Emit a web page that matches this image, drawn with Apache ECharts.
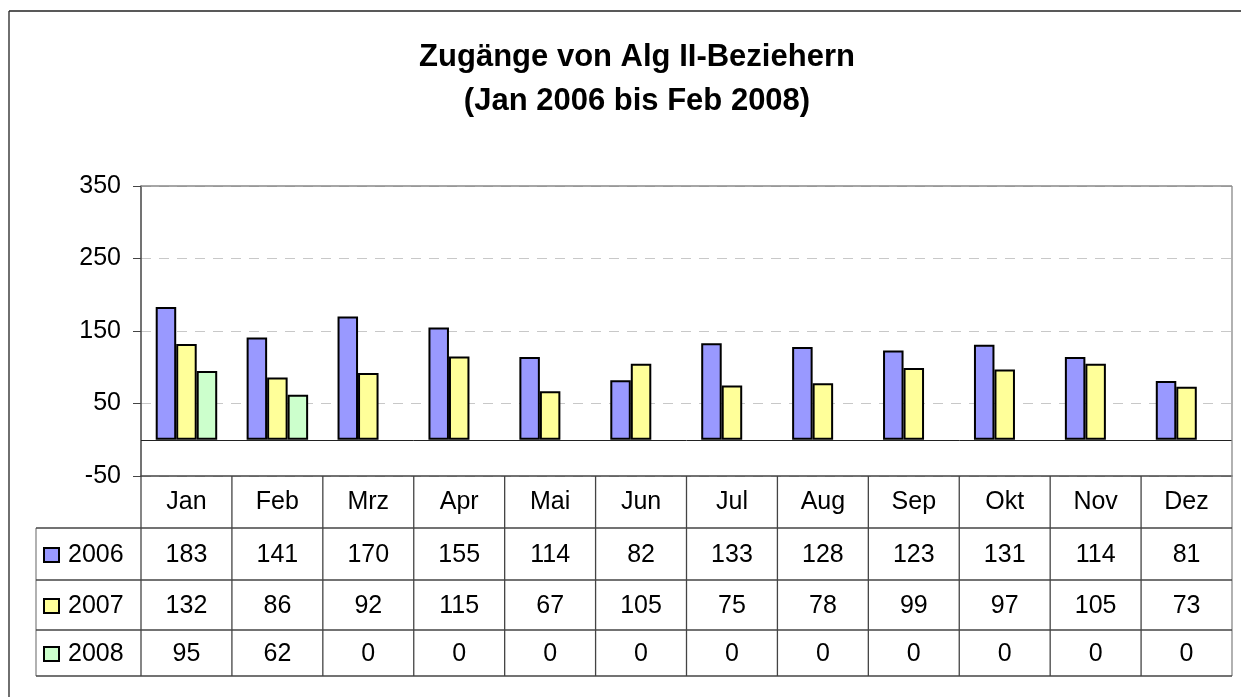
<!DOCTYPE html>
<html>
<head>
<meta charset="utf-8">
<script src="https://cdn.jsdelivr.net/npm/echarts@6/dist/echarts.min.js"></script>
<style>
  html, body { margin: 0; padding: 0; background: #fff; }
  #chart { width: 1241px; height: 697px; }
</style>
</head>
<body>
<div id="chart"></div>
<script>
// data
var months = ["Jan", "Feb", "Mrz", "Apr", "Mai", "Jun", "Jul", "Aug", "Sep", "Okt", "Nov", "Dez"];
var years = ["2006", "2007", "2008"];
var values2006 = [183, 141, 170, 155, 114, 82, 133, 128, 123, 131, 114, 81];
var values2007 = [132, 86, 92, 115, 67, 105, 75, 78, 99, 97, 105, 73];
var values2008 = [95, 62, 0, 0, 0, 0, 0, 0, 0, 0, 0, 0];
var colors = ["#9999ff", "#ffff99", "#ccffcc"];

var font = "Arial, 'Liberation Sans', sans-serif";
var gridLeft = 141, gridTop = 186, gridRight = 1232, gridBottom = 476;
var rowLines = [528, 580, 630, 676];   // bottom edges of table rows
var tableLeft = 36;
var lineColor = "#444";

var chart = echarts.init(document.getElementById("chart"));

function barSeries(name, data, color) {
  return {
    name: name,
    type: "bar",
    // zero bars get no outline so they vanish into the zero line
    data: data.map(function (v) {
      return v === 0 ? { value: v, itemStyle: { borderWidth: 0 } } : v;
    }),
    barWidth: 20.5,
    barGap: "0%",
    itemStyle: { color: color, borderColor: "#000", borderWidth: 2 },
    animation: false
  };
}

var series = [
  barSeries(years[0], values2006, colors[0]),
  barSeries(years[1], values2007, colors[1]),
  barSeries(years[2], values2008, colors[2])
];
// zero line
series[0].markLine = {
  silent: true,
  symbol: "none",
  label: { show: false },
  lineStyle: { color: "#222", type: "solid", width: 1 },
  data: [{ yAxis: 0 }]
};

var options = {
  backgroundColor: "#fff",
  animation: false,
  title: {
    text: "Zugänge von Alg II-Beziehern\n(Jan 2006 bis Feb 2008)",
    left: 632,
    textAlign: "center",
    top: 30,
    textStyle: { fontFamily: font, fontSize: 31, fontWeight: "bold", color: "#000", lineHeight: 44 }
  },
  grid: {
    left: gridLeft,
    top: gridTop,
    width: gridRight - gridLeft,
    height: gridBottom - gridTop,
    containLabel: false
  },
  xAxis: [{
    type: "category",
    data: months,
    axisLine: { onZero: false, lineStyle: { color: lineColor, width: 1.5 } },
    axisTick: { show: false },
    splitLine: { show: false },
    axisLabel: {
      margin: 26,
      verticalAlign: "middle",
      fontFamily: font,
      fontSize: 25,
      color: "#000"
    }
  }],
  yAxis: [{
    type: "value",
    min: -50,
    max: 350,
    interval: 100,
    axisLine: { show: true, lineStyle: { color: lineColor, width: 1.5 } },
    axisTick: { show: true, length: 8, lineStyle: { color: lineColor, width: 1 } },
    axisLabel: { margin: 20, fontFamily: font, fontSize: 25, color: "#000" },
    splitLine: { show: true, lineStyle: { color: "#c8c8c8", type: [10, 8], width: 1 } }
  }],
  series: series
};

chart.setOption(options, true);

// data table under the plot, positioned from the category axis
function buildTable() {
  var g = [];
  var band = (gridRight - gridLeft) / months.length;
  var lefts = months.map(function (m) {
    return chart.convertToPixel({ xAxisIndex: 0 }, m) - band / 2;
  });
  var rows = [values2006, values2007, values2008];

  function line(x1, y1, x2, y2, color) {
    g.push({
      type: "line",
      silent: true,
      shape: { x1: x1, y1: y1, x2: x2, y2: y2 },
      style: { stroke: color || lineColor, lineWidth: 1.3 },
      z: 10
    });
  }
  function text(t, x, y, align) {
    g.push({
      type: "text",
      silent: true,
      x: x, y: y,
      style: { text: t, font: "25px " + font, fill: "#000", align: align || "center", verticalAlign: "middle" },
      z: 10
    });
  }

  // outer chart frame (cut off at the right and bottom in the original)
  line(9, 11, 1241, 11, "#222");
  line(9, 11, 9, 697, "#222");

  // plot frame top and right
  line(gridLeft, gridTop, gridRight, gridTop, "#888");
  line(gridRight, gridTop, gridRight, gridBottom, "#888");

  // column lines
  lefts.forEach(function (x) { line(x, gridBottom, x, rowLines[3]); });
  line(gridRight, gridBottom, gridRight, rowLines[3], "#888");
  line(tableLeft, rowLines[0], tableLeft, rowLines[3], "#888");

  // row lines
  rowLines.forEach(function (y) { line(tableLeft, y, gridRight, y); });

  // cells
  rows.forEach(function (vals, r) {
    var y0 = rowLines[r];
    var y1 = rowLines[r + 1];
    var cy = (y0 + y1) / 2 + 1;
    g.push({
      type: "rect",
      silent: true,
      shape: { x: 44, y: cy - 7, width: 15, height: 14 },
      style: { fill: colors[r], stroke: "#000", lineWidth: 2 },
      z: 10
    });
    text(years[r], 68, cy, "left");
    vals.forEach(function (v, i) {
      text(String(v), lefts[i] + band / 2, cy);
    });
  });

  chart.setOption({ graphic: { elements: g } });
}
buildTable();
</script>
</body>
</html>
